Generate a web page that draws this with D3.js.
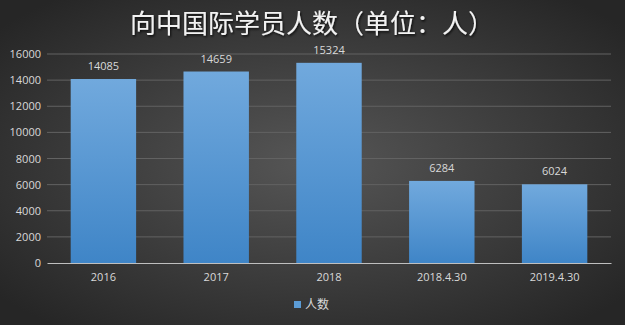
<!DOCTYPE html>
<html>
<head>
<meta charset="utf-8">
<script src="https://cdn.jsdelivr.net/npm/d3@7"></script>
<style>
  body { margin: 0; background: #333; }
  svg { display: block; }
</style>
</head>
<body>
<svg id="chart" width="625" height="325"></svg>
<script>
// data
const categories = ["2016", "2017", "2018", "2018.4.30", "2019.4.30"];
const counts = [14085, 14659, 15324, 6284, 6024];
const yTicks = [0, 2000, 4000, 6000, 8000, 10000, 12000, 14000, 16000];
const seriesName = "人数";
const titleText = "向中国际学员人数（单位：人）";

let width = 625, height = 325;
let margin = {top: 54, right: 14, bottom: 62, left: 47};
let innerW = width - margin.left - margin.right,
    innerH = height - margin.top - margin.bottom;

let svg = d3.select("#chart");
let defs = svg.append("defs");

// dark radial background
let bg = defs.append("radialGradient")
    .attr("id", "bg")
    .attr("cx", "50%").attr("cy", "50%").attr("r", "65%");
bg.append("stop").attr("offset", "0%").attr("stop-color", "#565656");
bg.append("stop").attr("offset", "100%").attr("stop-color", "#262626");

let barGrad = defs.append("linearGradient")
    .attr("id", "barGrad")
    .attr("x1", 0).attr("y1", 0).attr("x2", 0).attr("y2", 1);
barGrad.append("stop").attr("offset", "0%").attr("stop-color", "#71a9dd");
barGrad.append("stop").attr("offset", "100%").attr("stop-color", "#3f85c7");

let shadow = defs.append("filter").attr("id", "shadow")
    .attr("x", "-10%").attr("y", "-10%").attr("width", "130%").attr("height", "140%");
shadow.append("feDropShadow")
    .attr("dx", 1).attr("dy", 1.5).attr("stdDeviation", 1.2)
    .attr("flood-color", "#000").attr("flood-opacity", 0.8);

svg.append("rect")
    .attr("width", width).attr("height", height)
    .attr("fill", "url(#bg)");

svg.append("text")
    .attr("x", 312)
    .attr("y", 33)
    .attr("text-anchor", "middle")
    .attr("fill", "#f2f2f2")
    .attr("font-family", "Noto Sans CJK SC")
    .attr("font-size", 26)
    .attr("filter", "url(#shadow)")
    .text(titleText);

let g = svg.append("g")
    .attr("transform", "translate(" + margin.left + "," + margin.top + ")");

let x = d3.scaleBand()
    .domain(categories)
    .range([0, innerW])
    .paddingInner(0.42)
    .paddingOuter(0.21);

let y = d3.scaleLinear()
    .domain([0, 16000])
    .range([innerH, 0]);

// gridlines
g.selectAll(".grid")
    .data(yTicks.filter(d => d > 0))
    .enter().append("line")
    .attr("class", "grid")
    .attr("x1", 0).attr("x2", innerW)
    .attr("y1", d => y(d)).attr("y2", d => y(d))
    .style("stroke", "#626262")
    .style("stroke-width", 1);

let yAxis = g.append("g")
    .call(d3.axisLeft(y).tickValues(yTicks).tickFormat(d3.format("d")).tickSize(0).tickPadding(6));
yAxis.select(".domain").remove();
yAxis.selectAll("text")
    .attr("fill", "#d9d9d9")
    .attr("font-family", "Open Sans, DejaVu Sans, sans-serif")
    .attr("font-size", 11);

g.selectAll(".bar")
    .data(counts)
    .enter().append("rect")
    .attr("class", "bar")
    .attr("x", (d, i) => x(categories[i]))
    .attr("y", d => y(d))
    .attr("width", x.bandwidth())
    .attr("height", d => innerH - y(d))
    .attr("fill", "url(#barGrad)");

g.selectAll(".lbl")
    .data(counts)
    .enter().append("text")
    .attr("class", "lbl")
    .attr("x", (d, i) => x(categories[i]) + x.bandwidth() / 2)
    .attr("y", d => y(d) - 9)
    .attr("text-anchor", "middle")
    .attr("fill", "#d9d9d9")
    .attr("font-family", "Open Sans, DejaVu Sans, sans-serif")
    .attr("font-size", 11)
    .text(d => d);

let xAxis = g.append("g")
    .attr("transform", "translate(0," + innerH + ")")
    .call(d3.axisBottom(x).tickSize(0).tickPadding(10));
xAxis.select(".domain").style("stroke", "#bfbfbf").style("stroke-width", 1.2);
xAxis.selectAll("text")
    .attr("fill", "#d9d9d9")
    .attr("font-family", "Open Sans, DejaVu Sans, sans-serif")
    .attr("font-size", 11);

// legend
let legend = svg.append("g").attr("transform", "translate(294,301)");
legend.append("rect")
    .attr("width", 7).attr("height", 7)
    .attr("fill", "#5b9bd5");
legend.append("text")
    .attr("x", 11).attr("y", 7.5)
    .attr("fill", "#d9d9d9")
    .attr("font-family", "Noto Sans CJK SC")
    .attr("font-size", 12)
    .text(seriesName);
</script>
</body>
</html>
